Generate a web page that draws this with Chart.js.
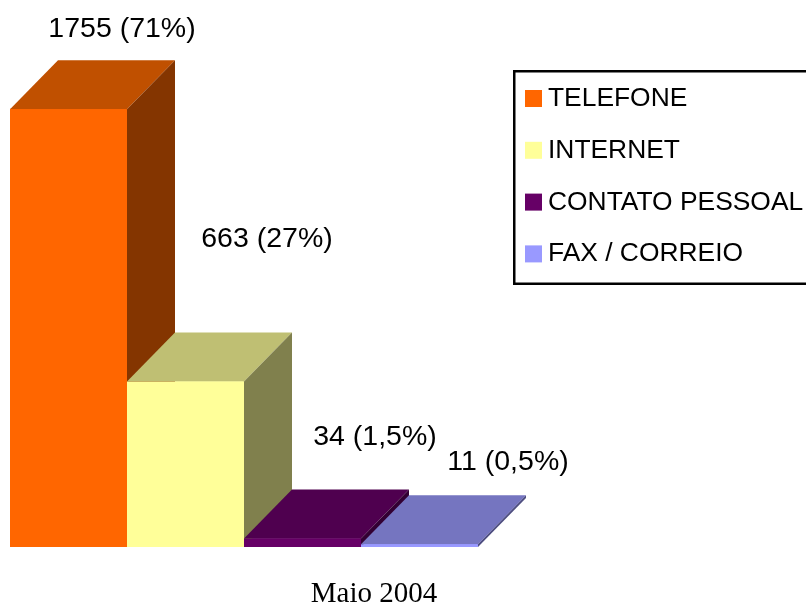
<!DOCTYPE html>
<html>
<head>
<meta charset="utf-8">
<script src="https://cdn.jsdelivr.net/npm/chart.js@4/dist/chart.umd.min.js"></script>
<style>
  html, body { margin: 0; padding: 0; background: #ffffff; }
  #wrap { width: 806px; height: 605px; position: relative; }
  canvas { display: block; }
</style>
</head>
<body>
<div id="wrap"><canvas id="c" width="806" height="605"></canvas></div>
<script>
// ---- data ----
const categories = ['Maio 2004'];
const seriesNames = ['TELEFONE', 'INTERNET', 'CONTATO PESSOAL', 'FAX / CORREIO'];
const seriesValues = [1755, 663, 34, 11];
const seriesPercents = ['71%', '27%', '1,5%', '0,5%'];

// ---- styles ----
const frontColors = ['#FF6600', '#FFFF99', '#660066', '#9999FF'];
const topColors   = ['#C05000', '#BFBF73', '#4F004F', '#7575C0'];
const sideColors  = ['#843500', '#80804D', '#330033', '#4D4D80'];
const depth = { dx: 48, dy: -49 };
// label anchor offsets (relative to front-top-center of each bar), text baseline
const labelOffsets = [[53.5, -72], [81.5, -135], [72.5, -93.5], [88.5, -74]];

const bars3d = {
  id: 'bars3d',
  afterDatasetsDraw(chart) {
    const ctx = chart.ctx;
    ctx.save();
    chart.data.datasets.forEach((ds, i) => {
      const el = chart.getDatasetMeta(i).data[0];
      const p = el.getProps(['x', 'y', 'base', 'width'], true);
      const l = p.x - p.width / 2, r = p.x + p.width / 2, t = p.y, b = p.base;
      const dx = depth.dx, dy = depth.dy;
      // top face
      ctx.fillStyle = topColors[i];
      ctx.beginPath();
      ctx.moveTo(l, t); ctx.lineTo(l + dx, t + dy); ctx.lineTo(r + dx, t + dy); ctx.lineTo(r, t);
      ctx.closePath(); ctx.fill();
      // side face
      ctx.fillStyle = sideColors[i];
      ctx.beginPath();
      ctx.moveTo(r, t); ctx.lineTo(r + dx, t + dy); ctx.lineTo(r + dx, b + dy); ctx.lineTo(r, b);
      ctx.closePath(); ctx.fill();
      // front face
      ctx.fillStyle = frontColors[i];
      ctx.fillRect(l, t, p.width, b - t);
    });
    // value labels
    ctx.fillStyle = '#000';
    ctx.font = '28.5px "Liberation Sans", Arial, sans-serif';
    ctx.textAlign = 'center';
    ctx.textBaseline = 'alphabetic';
    chart.data.datasets.forEach((ds, i) => {
      const el = chart.getDatasetMeta(i).data[0];
      const txt = ds.data[0] + ' (' + seriesPercents[i] + ')';
      ctx.fillText(txt, el.x + labelOffsets[i][0], el.y + labelOffsets[i][1]);
    });
    // category label
    ctx.font = '29px "Liberation Serif", "Times New Roman", serif';
    ctx.fillText(chart.data.labels[0], 374, 602);
    // legend
    ctx.lineWidth = 2.5;
    ctx.strokeStyle = '#000';
    ctx.strokeRect(514.25, 71.25, 300, 212.5);
    ctx.font = '26.4px "Liberation Sans", Arial, sans-serif';
    ctx.textAlign = 'left';
    chart.data.datasets.forEach((ds, i) => {
      const yb = 106 + i * 51.8;
      ctx.fillStyle = frontColors[i];
      ctx.fillRect(525, yb - 16, 17, 17);
      ctx.fillStyle = '#000';
      ctx.fillText(ds.label, 548, yb);
    });
    ctx.restore();
  }
};

new Chart(document.getElementById('c'), {
  type: 'bar',
  data: {
    labels: categories,
    datasets: seriesNames.map((name, i) => ({
      label: name,
      data: [seriesValues[i]],
      backgroundColor: frontColors[i],
      borderWidth: 0,
      categoryPercentage: 1,
      barPercentage: 1
    }))
  },
  options: {
    responsive: false,
    animation: false,
    layout: { padding: { left: 10, right: 328, top: 48, bottom: 58 } },
    scales: {
      x: { display: false },
      y: { display: false, min: 0, max: 2000 }
    },
    plugins: { legend: { display: false }, tooltip: { enabled: false } }
  },
  plugins: [bars3d]
});
</script>
</body>
</html>
